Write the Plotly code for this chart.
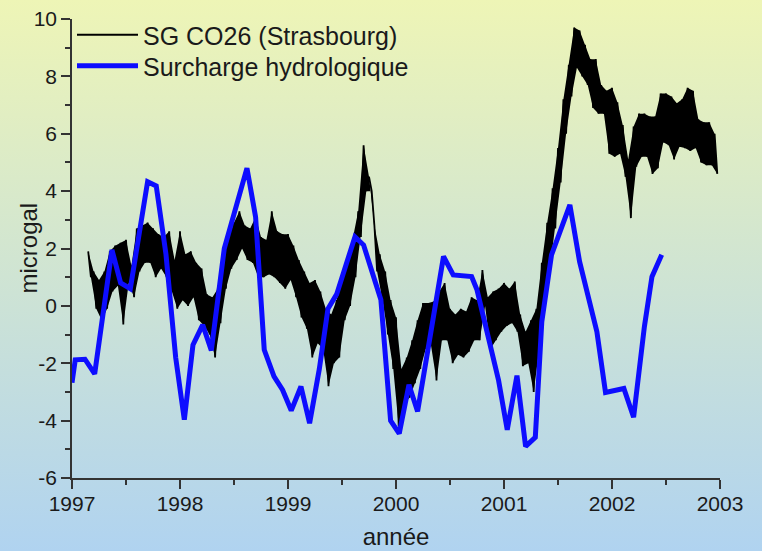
import base64
import plotly.graph_objects as go

# ---- data: hydrological loading (monthly vertices) ----
blue_year = [1997.00, 1997.03, 1997.12, 1997.21, 1997.37, 1997.45, 1997.54, 1997.70, 1997.78,
             1997.87, 1997.96, 1998.04, 1998.12, 1998.21, 1998.29, 1998.41, 1998.62, 1998.70,
             1998.78, 1998.87, 1998.95, 1999.03, 1999.12, 1999.20, 1999.29, 1999.37, 1999.45,
             1999.62, 1999.70, 1999.86, 1999.95, 2000.03, 2000.12, 2000.20, 2000.44, 2000.53,
             2000.70, 2000.75, 2000.95, 2001.03, 2001.12, 2001.20, 2001.29, 2001.35, 2001.44,
             2001.61, 2001.70, 2001.86, 2001.94, 2002.11, 2002.20, 2002.30, 2002.37, 2002.46]
blue_val = [-2.68, -1.88, -1.86, -2.37, 1.95, 0.8, 0.6, 4.33, 4.18,
            1.8, -1.8, -3.97, -1.36, -0.66, -1.55, 2.0, 4.8, 3.1,
            -1.53, -2.46, -2.93, -3.65, -2.81, -4.09, -2.2, -0.1, 0.4,
            2.41, 2.12, 0.21, -4.0, -4.45, -2.75, -3.68, 1.72, 1.08,
            1.02, 0.56, -2.6, -4.32, -2.43, -4.9, -4.58, -0.55, 1.78,
            3.52, 1.54, -0.9, -3.02, -2.88, -3.88, -0.72, 1.02, 1.78]

# ---- data: SG CO26 gravity residual, read as upper / lower envelope of the noisy trace ----
sg_year = [1997.15, 1997.20, 1997.25, 1997.30, 1997.35, 1997.40, 1997.45, 1997.50, 1997.55, 1997.60,
           1997.65, 1997.70, 1997.75, 1997.80, 1997.85, 1997.90, 1997.95, 1998.00, 1998.05, 1998.10,
           1998.15, 1998.20, 1998.25, 1998.30, 1998.35, 1998.40, 1998.45, 1998.50, 1998.55, 1998.60,
           1998.65, 1998.70, 1998.75, 1998.80, 1998.85, 1998.90, 1998.95, 1999.00, 1999.05, 1999.10,
           1999.15, 1999.20, 1999.25, 1999.30, 1999.35, 1999.40, 1999.45, 1999.50, 1999.55, 1999.60,
           1999.65, 1999.70, 1999.75, 1999.80, 1999.85, 1999.90, 1999.95, 2000.00, 2000.05, 2000.10,
           2000.15, 2000.20, 2000.25, 2000.30, 2000.35, 2000.40, 2000.45, 2000.50, 2000.55, 2000.60,
           2000.65, 2000.70, 2000.75, 2000.80, 2000.85, 2000.90, 2000.95, 2001.00, 2001.05, 2001.10,
           2001.15, 2001.20, 2001.25, 2001.30, 2001.35, 2001.40, 2001.45, 2001.50, 2001.55, 2001.60,
           2001.65, 2001.70, 2001.75, 2001.80, 2001.85, 2001.90, 2001.95, 2002.00, 2002.05, 2002.10,
           2002.15, 2002.20, 2002.25, 2002.30, 2002.35, 2002.40, 2002.45, 2002.50, 2002.55, 2002.60,
           2002.65, 2002.70, 2002.75, 2002.80, 2002.85, 2002.90, 2002.95]
sg_high = [1.9, 1.2, 0.9, 1.2, 1.9, 2.1, 2.2, 2.3, 1.4, 2.7,
           2.8, 2.9, 2.7, 2.5, 2.4, 2.6, 1.6, 2.6, 1.8, 1.9,
           1.5, 1.3, 0.4, 0.3, 0.6, 1.7, 2.4, 2.9, 3.3, 2.8,
           2.7, 3.1, 2.4, 2.3, 3.3, 2.6, 2.5, 2.5, 2.1, 1.6,
           1.2, 0.8, 0.9, 0.5, -0.1, -0.3, 0.2, 1.0, 1.4, 2.3,
           3.3, 5.6, 4.5, 2.8, 1.8, 1.2, 0.2, -0.4, -2.2, -1.8,
           -1.2, -0.5, 0.1, 0.1, 0.15, 0.5, 0.8, -0.1, -0.3, -0.1,
           -0.2, 0.3, 0.2, 1.25, 0.3, 0.5, 0.6, 0.8, 0.6, 0.85,
           -0.3, -0.9, -0.5, -0.1, 1.5, 2.9, 4.1, 5.5, 7.2, 8.4,
           9.7, 9.6, 9.1, 8.6, 8.6, 7.7, 7.5, 7.6, 7.1, 6.3,
           5.1, 6.25, 6.7, 6.7, 6.6, 6.6, 7.4, 7.4, 7.3, 7.06,
           7.2, 7.6, 7.5, 6.5, 6.4, 6.4, 6.0]
sg_low = [1.0, -0.1, -0.5, -0.1, 0.5, 0.7, -0.65, 0.8, 0.3, 1.2,
          1.5, 1.5, 1.0, 1.3, 1.0, 0.5, -0.1, 0.2, 0.0, 0.3,
          -0.5, -0.7, -1.0, -1.8, -0.6, 0.6, 1.3, 1.6, 2.0, 1.6,
          1.5, 1.0, 1.0, 1.1, 1.0, 0.8, 0.6, 0.9, 0.3, -0.4,
          -0.8, -1.8, -1.3, -1.5, -2.8, -2.0, -1.8, -0.5, 0.0, 1.0,
          2.4, 4.0, 4.0, 1.2, 0.2, -1.0, -2.2, -4.2, -3.4, -3.2,
          -2.7, -2.2, -1.5, -1.4, -2.6, -1.2, -1.2, -2.0, -1.7, -1.8,
          -1.6, -1.2, -1.2, 0.0, -1.5, -1.2, -0.9, -0.7, -0.6, -0.9,
          -2.1, -2.0, -3.0, -1.5, -0.1, 1.3, 2.7, 4.3, 6.0, 7.3,
          8.3, 8.0, 7.7, 6.9, 6.7, 6.7, 5.3, 5.2, 5.3, 4.5,
          3.06, 4.85, 5.2, 5.2, 4.6, 4.8, 5.7, 5.6, 5.1, 5.55,
          5.5, 5.4, 5.5, 5.0, 4.9, 4.9, 4.6]

x_ticks = [1997, 1998, 1999, 2000, 2001, 2002, 2003]
y_ticks = [-6, -4, -2, 0, 2, 4, 6, 8, 10]

# noisy trace drawn as a zig-zag between the read upper and lower envelopes
sg_x, sg_y = [], []
for t, hi, lo in zip(sg_year, sg_high, sg_low):
    sg_x += [t, t + 0.025]
    sg_y += [hi, lo]
# band behind the zig-zag (upper envelope forward, lower envelope back)
band_x = list(sg_year) + [t + 0.025 for t in reversed(sg_year)]
band_y = list(sg_high) + list(reversed(sg_low))

FONT = "Liberation Sans, Arial, sans-serif"
TXT = "#1a1a1a"
W, H = 762, 551
ML, MR, MT, MB = 72, 42, 19, 73
PW, PH = W - ML - MR, H - MT - MB

svg = (f'<svg xmlns="http://www.w3.org/2000/svg" width="{W}" height="{H}">'
       '<defs><linearGradient id="g" x1="0" y1="0" x2="0" y2="1">'
       '<stop offset="0" stop-color="#eef5b6"/>'
       '<stop offset="1" stop-color="#b0d3f0"/>'
       '</linearGradient></defs>'
       f'<rect width="{W}" height="{H}" fill="url(#g)"/></svg>')
bg_uri = "data:image/svg+xml;base64," + base64.b64encode(svg.encode()).decode()

fig = go.Figure()
fig.add_trace(go.Scatter(x=band_x, y=band_y, mode="lines", fill="toself", fillcolor="#000000",
                         line=dict(width=0, color="#000000"), showlegend=False, hoverinfo="skip"))
fig.add_trace(go.Scatter(x=sg_x, y=sg_y, mode="lines", name="SG CO26 (Strasbourg)",
                         line=dict(color="#000000", width=1.8), legend="legend"))
fig.add_trace(go.Scatter(x=blue_year, y=blue_val, mode="lines", name="Surcharge hydrologique",
                         line=dict(color="#0d0dff", width=5), legend="legend2"))

axis_common = dict(showline=True, linecolor="#333333", linewidth=1.5, showgrid=False,
                   zeroline=False, ticks="outside", ticklen=9, tickwidth=1.5, tickcolor="#333333",
                   automargin=False, tickfont=dict(family=FONT, size=21, color=TXT))
fig.update_xaxes(range=[1997, 2003], tickvals=x_ticks, ticktext=[str(v) for v in x_ticks],
                 minor=dict(dtick=0.5, tick0=1997, ticks="outside", ticklen=5, tickwidth=1.5,
                            tickcolor="#333333"),
                 ticklabelstandoff=-3,
                 title=dict(text="année", font=dict(family=FONT, size=24, color=TXT), standoff=14),
                 **axis_common)
fig.update_yaxes(range=[-6, 10], tickvals=y_ticks, ticktext=[str(v) for v in y_ticks],
                 minor=dict(dtick=1, tick0=-6, ticks="outside", ticklen=5, tickwidth=1.5,
                            tickcolor="#333333"),
                 **axis_common)

leg_common = dict(xanchor="left", yanchor="top", bgcolor="rgba(0,0,0,0)", borderwidth=0,
                  itemwidth=61, font=dict(family=FONT, size=25, color=TXT))
fig.update_layout(
    width=W, height=H,
    margin=dict(l=ML, r=MR, t=MT, b=MB),
    paper_bgcolor="rgba(0,0,0,0)", plot_bgcolor="rgba(0,0,0,0)",
    images=[dict(source=bg_uri, xref="paper", yref="paper",
                 x=-ML / PW, y=1 + MT / PH, sizex=W / PW, sizey=H / PH,
                 xanchor="left", yanchor="top", sizing="stretch", layer="below")],
    legend=dict(x=0.0, y=1 + 7 / PH, **leg_common),
    legend2=dict(x=0.0, y=1 - 24 / PH, **leg_common),
    annotations=[dict(text="microgal", textangle=-90, xref="paper", yref="paper",
                      x=-44 / PW, y=0.5, xanchor="center", yanchor="middle", showarrow=False,
                      font=dict(family=FONT, size=24, color=TXT))],
    showlegend=True,
)

fig.write_html("out.html", config={"displayModeBar": False},
               post_script="document.body.style.margin='0';document.body.style.padding='0';"
                           "document.body.style.overflow='hidden';")
